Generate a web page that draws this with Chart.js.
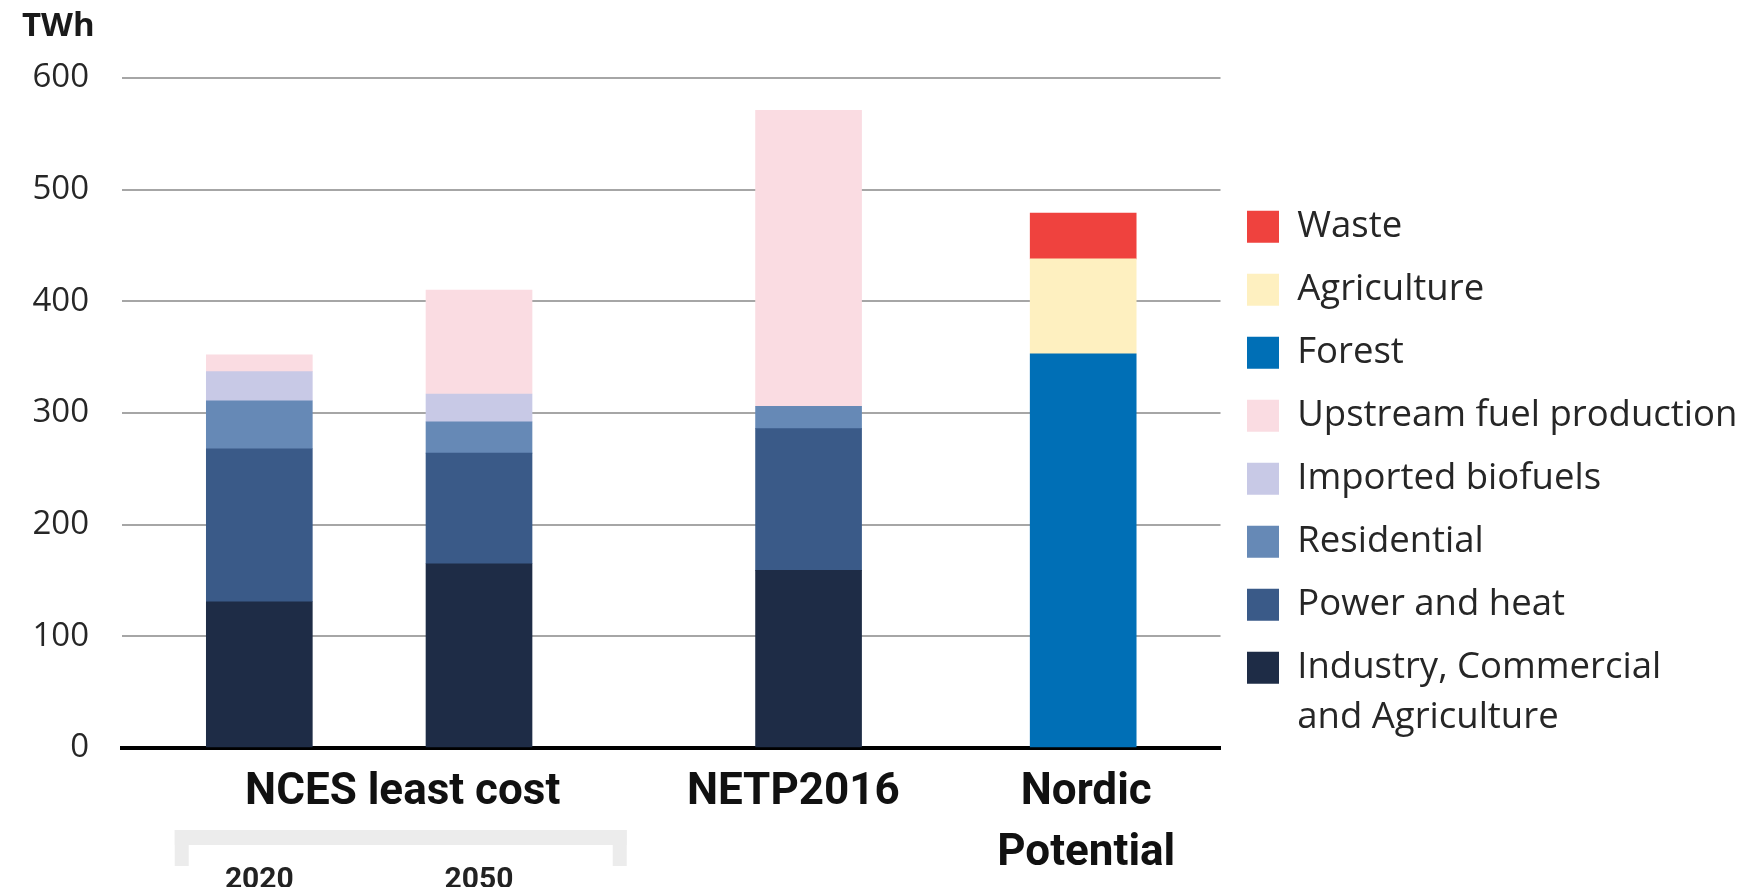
<!DOCTYPE html>
<html>
<head>
<meta charset="utf-8">
<script src="https://cdn.jsdelivr.net/npm/chart.js@4/dist/chart.umd.min.js"></script>
<style>
  html, body { margin: 0; padding: 0; background: #ffffff; }
  #wrap { width: 1744px; height: 887px; position: relative; }
</style>
</head>
<body>
<div id="wrap"><canvas id="c" width="1744" height="887"></canvas></div>
<script>
// ---------------- data ----------------
const categories = ['2020', '2050', 'NETP2016', 'Nordic Potential'];
const groupLabels = ['NCES least cost', 'NETP2016', ['Nordic', 'Potential']];
const unitLabel = 'TWh';
const yTickValues = [0, 100, 200, 300, 400, 500, 600];

const seriesNames = [
  'Industry, Commercial and Agriculture',
  'Power and heat',
  'Residential',
  'Imported biofuels',
  'Upstream fuel production',
  'Forest',
  'Agriculture',
  'Waste'
];
const industry    = [131, 165, 159, null];
const powerHeat   = [137,  99, 127, null];
const residential = [ 43,  28,  20, null];
const imported    = [ 26,  25, null, null];
const upstream    = [ 15,  93, 265, null];
const forest      = [null, null, null, 353];
const agriculture = [null, null, null, 85];
const waste       = [null, null, null, 41];

// ---------------- styles / layout ----------------
const seriesColors = ['#1e2c46', '#3a5a88', '#6689b6', '#c8c9e6', '#fadce2', '#006fb6', '#fef0c0', '#ef423e'];
const SLOT_COUNT = 20;            // fine category grid used to space the bars like the original
const barSlots = [2, 6, 12, 17];
const GROUP_SLOT_COUNT = 45;      // fine category grid used to place the group captions
const groupSlots = [11, 27, 39];

const seriesValues = [industry, powerHeat, residential, imported, upstream, forest, agriculture, waste];

const slotLabels = Array.from({length: SLOT_COUNT}, () => '');
barSlots.forEach((s, k) => { slotLabels[s] = categories[k]; });
const groupSlotLabels = Array.from({length: GROUP_SLOT_COUNT}, () => '');
groupSlots.forEach((s, k) => { groupSlotLabels[s] = groupLabels[k]; });

function toSlots(values) {
  const arr = Array.from({length: SLOT_COUNT}, () => null);
  values.forEach((v, k) => { arr[barSlots[k]] = v; });
  return arr;
}

const datasets = seriesNames.map((name, i) => ({
  label: name,
  data: toSlots(seriesValues[i]),
  backgroundColor: seriesColors[i],
  borderWidth: 0,
  barThickness: 106,
  stack: 's',
  xAxisID: 'x',
  yAxisID: 'y'
}));

Chart.defaults.font.family = "'Open Sans', sans-serif";
Chart.defaults.color = '#262626';

const bracketPlugin = {
  id: 'bracket',
  afterDraw(chart) {
    const x2 = chart.scales.x2;
    const ctx = chart.ctx;
    const cx = x2.getPixelForValue(groupSlots[0]) - 2;
    const half = 226, top = x2.top + 82, thick = 15, legW = 14, bottom = x2.top + 118;
    ctx.save();
    ctx.fillStyle = '#ececec';
    ctx.fillRect(cx - half, top, half * 2, thick);
    ctx.fillRect(cx - half, top, legW, bottom - top);
    ctx.fillRect(cx + half - legW, top, legW, bottom - top);
    ctx.restore();
  }
};

new Chart(document.getElementById('c'), {
  type: 'bar',
  data: { labels: slotLabels, datasets },
  plugins: [bracketPlugin],
  options: {
    responsive: false,
    animation: false,
    devicePixelRatio: 1,
    layout: { padding: { left: 22, top: 0, right: 0, bottom: 0 } },
    plugins: {
      tooltip: { enabled: false },
      title: {
        display: true,
        text: unitLabel,
        align: 'start',
        color: '#1a1a1a',
        font: { family: "'Open Sans', sans-serif", size: 33, weight: 'bold', lineHeight: 1.2 },
        padding: { top: 7, bottom: 31.4 }
      },
      legend: {
        position: 'right',
        align: 'center',
        reverse: true,
        maxWidth: 523.5,
        title: { display: true, text: ' ', font: { size: 10, lineHeight: 1 }, padding: { top: 61, bottom: 0 } },
        labels: {
          boxWidth: 32,
          boxHeight: 32,
          padding: 26.5,
          color: '#262626',
          font: { family: "'Open Sans', sans-serif", size: 36.5, lineHeight: 1.37 },
          generateLabels(chart) {
            const items = Chart.defaults.plugins.legend.labels.generateLabels(chart);
            items.forEach(it => {
              if (it.text === 'Industry, Commercial and Agriculture') {
                it.text = ['Industry, Commercial', 'and Agriculture'];
              }
            });
            return items;
          }
        }
      }
    },
    scales: {
      x: {
        type: 'category',
        stacked: true,
        offset: true,
        position: 'bottom',
        weight: 1,
        grid: { display: false, drawTicks: false },
        border: { display: false },
        ticks: {
          autoSkip: false,
          maxRotation: 0,
          minRotation: 0,
          padding: 0,
          color: '#222222',
          font: { family: "Roboto, 'Open Sans', sans-serif", size: 30, weight: 'bold', lineHeight: 0.93 },
          callback: (v, i) => {
            const k = barSlots.indexOf(i);
            return (k === 0 || k === 1) ? categories[k] : '';
          }
        },
        afterFit: (s) => { s.height = 20; }
      },
      x2: {
        type: 'category',
        position: 'bottom',
        weight: 0,
        labels: groupSlotLabels,
        offset: true,
        min: 0,
        max: GROUP_SLOT_COUNT - 1,
        grid: { display: false, drawTicks: false },
        border: { display: true, color: '#000000', width: 4 },
        ticks: {
          autoSkip: false,
          maxRotation: 0,
          minRotation: 0,
          padding: 14.5,
          color: '#111111',
          font: { family: "Roboto, 'Open Sans', sans-serif", size: 44, weight: 'bold', lineHeight: 61 / 44 }
        },
        afterFit: (s) => { s.height = 119; }
      },
      y: {
        stacked: true,
        min: 0,
        max: 600,
        afterBuildTicks: (s) => { s.ticks = yTickValues.map(v => ({ value: v })); },
        grid: {
          drawTicks: false,
          lineWidth: 2,
          color: (ctx) => (ctx.tick && ctx.tick.value === 0) ? 'rgba(0,0,0,0)' : '#a6a6a6'
        },
        border: { display: false },
        ticks: {
          padding: 33,
          color: '#262626',
          font: { family: "'Open Sans', sans-serif", size: 33 }
        },
        afterFit: (s) => { s.width = 100; }
      }
    }
  }
});
</script>
</body>
</html>
